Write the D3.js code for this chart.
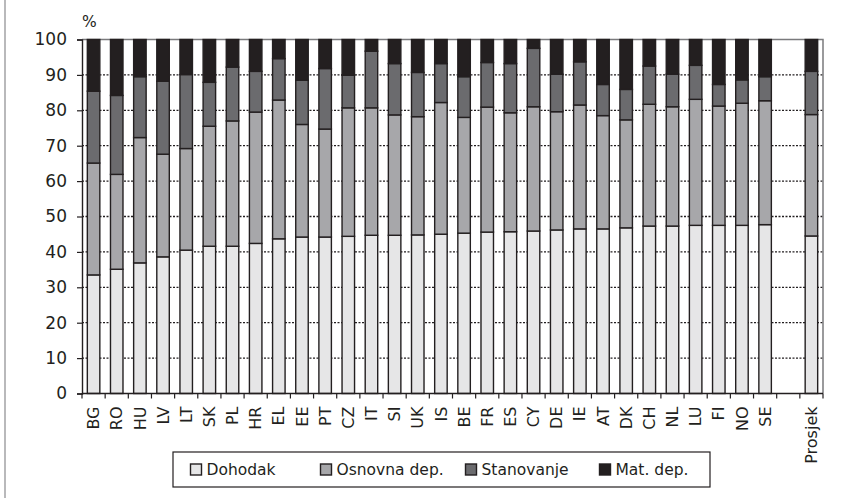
<!DOCTYPE html>
<html><head><meta charset="utf-8">
<script src="https://cdn.jsdelivr.net/npm/d3@7"></script>
<style>
html,body{margin:0;padding:0;background:#fff;}
svg{display:block;font-family:"DejaVu Sans",sans-serif;}
</style></head>
<body>
<svg id="chart" width="844" height="498"></svg>
<script>
const categories = ["BG","RO","HU","LV","LT","SK","PL","HR","EL","EE","PT","CZ","IT","SI","UK","IS","BE","FR","ES","CY","DE","IE","AT","DK","CH","NL","LU","FI","NO","SE","","Prosjek"];
const seriesNames = ["Dohodak","Osnovna dep.","Stanovanje","Mat. dep."];
const dohodak   = [33.5,35.1,36.9,38.6,40.5,41.6,41.6,42.4,43.7,44.2,44.2,44.4,44.7,44.7,44.8,45.0,45.3,45.6,45.7,45.9,46.2,46.5,46.5,46.8,47.3,47.3,47.5,47.5,47.5,47.7,null,44.5];
const osnovna   = [31.6,26.8,35.4,29.0,28.7,33.9,35.4,37.1,39.2,31.8,30.5,36.3,36.0,34.0,33.4,37.2,32.7,35.3,33.6,35.1,33.4,35.0,32.0,30.5,34.4,33.7,35.6,33.7,34.5,35.0,null,34.3];
const stanovanje= [20.3,22.3,17.2,20.6,20.9,12.4,15.2,11.5,11.7,12.5,17.1,9.2,16.0,14.5,12.5,11.0,11.5,12.6,13.9,16.5,10.6,12.2,8.8,8.6,10.8,9.2,9.6,6.1,6.6,6.8,null,12.2];
const matdep    = [14.6,15.8,10.5,11.8,9.9,12.1,7.8,9.0,5.4,11.5,8.2,10.1,3.3,6.8,9.3,6.8,10.5,6.5,6.8,2.5,9.8,6.3,12.7,14.1,7.5,9.8,7.3,12.7,11.4,10.5,null,9.0];
const yTicks = [0,10,20,30,40,50,60,70,80,90,100];
const colors = ["#e6e6e7","#a7a7aa","#6b6b6e","#231f20"];

const svg = d3.select("#chart");
const dark = "#231f20";

// left gray rule
svg.append("line").attr("x1",5).attr("x2",5).attr("y1",0).attr("y2",498)
  .attr("stroke","#b9b9bb").attr("stroke-width",2);

const x0 = 82, x1 = 823, yTop = 39.5, yBot = 393.5;
const slotKeys = categories.map((c,i)=>"k"+i);
const x = d3.scaleBand().domain(slotKeys).range([x0,x1]).paddingInner(0.46).paddingOuter(0.23);
const y = d3.scaleLinear().domain([0,100]).range([yBot,yTop]);

// gridlines
svg.append("g").selectAll("line").data(yTicks.filter(t=>t>0 && t<100)).join("line")
  .attr("x1",x0).attr("x2",x1).attr("y1",d=>y(d)).attr("y2",d=>y(d))
  .attr("stroke",dark).attr("stroke-width",1.3).attr("stroke-dasharray","2,1.5");

// plot border top & right
svg.append("path").attr("d",`M${x0},${y(100)}H${x1}V${yBot}`)
  .attr("fill","none").attr("stroke","#7a7a7c").attr("stroke-width",1.5);

// stacked bars
const rows = categories.map((c,i)=>({key:slotKeys[i],vals:[dohodak[i],osnovna[i],stanovanje[i],matdep[i]]}))
  .filter(r=>r.vals[0]!=null);
const gBars = svg.append("g");
rows.forEach(r=>{
  let cum=0;
  r.vals.forEach((v,j)=>{
    gBars.append("rect")
      .attr("x",x(r.key)).attr("width",x.bandwidth())
      .attr("y",y(cum+v)).attr("height",y(cum)-y(cum+v))
      .attr("fill",colors[j]).attr("stroke",dark).attr("stroke-width",1.4);
    cum+=v;
  });
});

// y axis
const yAxis = svg.append("g").attr("transform",`translate(${x0},0)`)
  .call(d3.axisLeft(y).tickValues(yTicks).tickSize(5).tickPadding(10));
yAxis.select(".domain").attr("stroke",dark).attr("stroke-width",1.4);
yAxis.selectAll(".tick line").attr("stroke",dark).attr("stroke-width",1.2);
yAxis.selectAll("text").attr("font-size",17).attr("fill",dark).attr("font-family","DejaVu Sans, sans-serif");

// x axis
const xAxis = svg.append("g").attr("transform",`translate(0,${yBot})`)
  .call(d3.axisBottom(x).tickSize(0).tickFormat((d,i)=>categories[i]));
xAxis.select(".domain").remove();
xAxis.append("line").attr("x1",x0).attr("x2",x1).attr("stroke",dark).attr("stroke-width",1.4);
const step = x.step();
xAxis.selectAll(".boundary").data(d3.range(categories.length+1)).join("line")
  .attr("x1",i=>x0+i*step).attr("x2",i=>x0+i*step).attr("y1",0).attr("y2",5)
  .attr("stroke",dark).attr("stroke-width",1.2);
xAxis.selectAll(".tick text")
  .attr("transform","rotate(-90)")
  .attr("text-anchor","end").attr("x",-13).attr("y",0).attr("dy","0.35em")
  .attr("font-size",16).attr("fill",dark).attr("font-family","DejaVu Sans, sans-serif");

// % label
svg.append("text").attr("x",82).attr("y",27).text("%")
  .attr("font-size",15.5).attr("fill",dark);

// legend
svg.append("rect").attr("x",173).attr("y",452).attr("width",537).attr("height",35)
  .attr("fill","#fff").attr("stroke",dark).attr("stroke-width",1.2);
const legX = [190,320,465,599];
seriesNames.forEach((n,j)=>{
  svg.append("rect").attr("x",legX[j]+0.5).attr("y",464).attr("width",11).attr("height",11)
    .attr("fill",colors[j]).attr("stroke",dark).attr("stroke-width",1.4);
  svg.append("text").attr("x",legX[j]+16.5).attr("y",475).text(n)
    .attr("font-size",15.5).attr("fill",dark);
});
</script>
</body></html>
